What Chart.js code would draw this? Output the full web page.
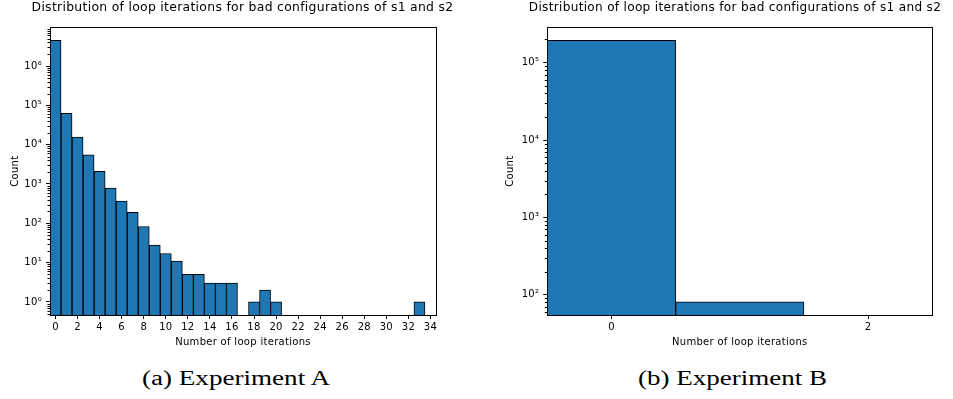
<!DOCTYPE html>
<html><head><meta charset="utf-8">
<script src="https://cdn.jsdelivr.net/npm/chart.js@4.4.1/dist/chart.umd.min.js"></script>
<style>
html,body{margin:0;padding:0;background:#fff;width:953px;height:399px;overflow:hidden;}
canvas{position:absolute;top:0;}
.cap{position:absolute;top:368px;font-family:"Liberation Serif";font-size:20px;color:#000;white-space:nowrap;line-height:20px;transform-origin:0 0;}
</style></head><body>
<canvas id="cA" width="476" height="355" style="left:0"></canvas>
<canvas id="cB" width="476" height="355" style="left:477px"></canvas>
<div class="cap" id="capA">(a) Experiment A</div>
<div class="cap" id="capB">(b) Experiment B</div>
<script>
// ---- data ----
const titleText = "Distribution of loop iterations for bad configurations of s1 and s2";
const xLabel = "Number of loop iterations";
const yLabel = "Count";

const iterationsA = [0,1,2,3,4,5,6,7,8,9,10,11,12,13,14,15,16,17,18,19,20,21,22,23,24,25,26,27,28,29,30,31,32,33,34];
const countsA = [4500000,63000,15500,5500,2100,790,370,190,83,28,17,11,5,5,3,3,3,null,1,2,1,null,null,null,null,null,null,null,null,null,null,null,null,1,null];
const xTicksA = [0,2,4,6,8,10,12,14,16,18,20,22,24,26,28,30,32,34];
const yTicksA = [1,10,100,1000,10000,100000,1000000];

const iterationsB = [0,1,2];
const countsB = [194000,81,null];
const xTicksB = [0,2];
const yTicksB = [100,1000,10000,100000];

// ---- helpers ----
Chart.defaults.font.family = "DejaVu Sans";
Chart.defaults.color = "#000";
const SUP = {"0":"⁰","1":"¹","2":"²","3":"³","4":"⁴","5":"⁵","6":"⁶","7":"⁷","8":"⁸","9":"⁹","-":"⁻"};
const sup = n => String(n).split("").map(c => SUP[c]).join("");

const spacingPlugin = {
  id: "spacing",
  beforeLayout(chart) { chart.ctx.letterSpacing = "0.3px"; },
  beforeDraw(chart) { chart.ctx.letterSpacing = "0.3px"; }
};

const framePlugin = {
  id: "frame",
  afterDraw(chart, args, opts) {
    const {ctx, chartArea: a, scales: {y}} = chart;
    ctx.save();
    ctx.strokeStyle = "#000";
    ctx.lineWidth = 1;
    const lo = Math.floor(Math.log10(y.min)), hi = Math.ceil(Math.log10(y.max));
    ctx.beginPath();
    for (let d = lo; d <= hi; d++) {
      for (let m = 2; m <= 9; m++) {
        const v = m * Math.pow(10, d);
        if (v < y.min || v > y.max) continue;
        const p = Math.round(y.getPixelForValue(v)) + 0.5;
        ctx.moveTo(a.left - 2.5, p);
        ctx.lineTo(a.left, p);
      }
    }
    ctx.stroke();
    ctx.strokeRect(Math.round(a.left) + 0.5, Math.round(a.top) + 0.5,
                   Math.round(a.right - a.left), Math.round(a.bottom - a.top));
    // chart title, centred over the plot area
    ctx.letterSpacing = "0.3px";
    ctx.fillStyle = "#000";
    ctx.font = opts.titleSize + "px 'DejaVu Sans'";
    ctx.textAlign = "center";
    ctx.textBaseline = "alphabetic";
    ctx.fillText(titleText, (a.left + a.right) / 2 + opts.titleShift, 11);
    ctx.restore();
  }
};

function makeChart(id, xs, ys, xTicks, yTicks, xmin, xmax, ymin, ymax, yWidth, padRight, countPad, titleSize, titleShift) {
  return new Chart(document.getElementById(id), {
    type: "bar",
    data: {
      datasets: [{
        data: xs.map((x, i) => ({x: x, y: ys[i]})),
        backgroundColor: "#1f77b4",
        borderColor: "#000",
        borderWidth: 1,
        barPercentage: 1,
        categoryPercentage: 1
      }]
    },
    options: {
      responsive: false,
      animation: false,
      devicePixelRatio: 1,
      layout: {padding: {left: 0, right: padRight, top: 27.3, bottom: 0}},
      plugins: {
        legend: {display: false},
        tooltip: {enabled: false},
        title: {display: false},
        frame: {titleSize: titleSize, titleShift: titleShift}
      },
      scales: {
        x: {
          type: "linear", min: xmin, max: xmax, offset: false,
          afterBuildTicks: s => { s.ticks = xTicks.map(v => ({value: v})); },
          afterFit: s => { s.height = 40; },
          ticks: {font: {size: 10}, color: "#000", padding: 2, maxRotation: 0, autoSkip: false,
                  callback: v => String(v)},
          grid: {display: true, drawOnChartArea: false, offset: false, tickLength: 4, color: "#000"},
          border: {display: false},
          title: {display: true, text: xLabel, font: {size: 10}, color: "#000", padding: {top: 0, bottom: 7}}
        },
        y: {
          type: "logarithmic", min: ymin, max: ymax,
          afterBuildTicks: s => { s.ticks = yTicks.map(v => ({value: v})); },
          afterFit: s => { s.width = yWidth; },
          ticks: {font: {size: 10}, color: "#000", padding: 4,
                  callback: v => "10" + sup(Math.round(Math.log10(v)))},
          grid: {display: true, drawOnChartArea: false, tickLength: 4, color: "#000"},
          border: {display: false},
          title: {display: true, text: yLabel, font: {size: 10}, color: "#000", padding: {top: countPad, bottom: 0}}
        }
      }
    },
    plugins: [spacingPlugin, framePlugin]
  });
}

makeChart("cA", iterationsA, countsA, xTicksA, yTicksA, -0.5, 34.5,
          Math.pow(10, -0.333), Math.pow(10, 6.986), 50, 40, 9, 12.4, -0.5);
makeChart("cB", iterationsB, countsB, xTicksB, yTicksB, -0.5, 2.5,
          Math.pow(10, 1.739), Math.pow(10, 5.457), 70.3, 20.7, 27.7, 12.1, -4.8);

// captions: stretch the serif text to the width of the reference captions
function placeCaption(id, centerX, width) {
  const el = document.getElementById(id);
  const w = el.getBoundingClientRect().width;
  const k = width / w;
  el.style.left = (centerX - width / 2) + "px";
  el.style.transform = "scaleX(" + k + ")";
}
placeCaption("capA", 236, 188);
placeCaption("capB", 732.6, 189);
</script>
</body></html>
